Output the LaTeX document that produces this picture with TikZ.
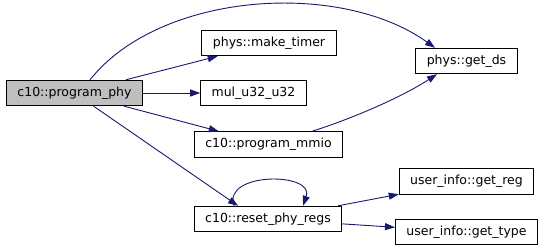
\documentclass[tikz,border=0pt]{standalone}
\usepackage{fontspec}
\setmainfont{DejaVu Sans}
\usepackage{xcolor}
\definecolor{edgeblue}{HTML}{191970}
\definecolor{curgray}{HTML}{BFBFBF}
\usepackage{tikz}
\usetikzlibrary{calc,positioning,arrows.meta,shapes}
\tikzset{
    func/.style={
    rectangle,draw=black,fill=white,line width=0.9pt,inner xsep=11pt,
    minimum height=25.5pt,font=\fontsize{12.5}{15}\selectfont
    },
    curfunc/.style={
    func,fill=curgray
    },
  line/.style={draw=edgeblue, line width=0.9pt, -{Triangle[length=10pt,width=7pt]}},
}

\begin{document}
\begin{tikzpicture}[x=1pt,y=-1pt]
\useasboundingbox (0,0) rectangle (545,251);

  \node[curfunc] (phy) at (74.5,93) {c10::program\_phy};
  \node[func] (mt) at (269,43) {phys::make\_timer};
  \node[func] (mul) at (253.5,93) {mul\_u32\_u32};
  \node[func] (mmio) at (268.5,144.5) {c10::program\_mmio};
  \node[func] (rst) at (268,219) {c10::reset\_phy\_regs};
  \node[func] (ds) at (466.5,61) {phys::get\_ds};
  \node[func] (greg) at (466.5,181.5) {user\_info::get\_reg};
  \node[func] (gtype) at (466.5,232) {user\_info::get\_type};

  % calls out of program_phy
  \path[line] ([xshift=15.5pt]phy.north) .. controls +(70,-88) and +(-95,-68) .. ([xshift=-31.5pt]ds.north);
  \path[line] (phy) -- (mt);
  \path[line] (phy) -- (mul);
  \path[line] (phy) -- (mmio);
  \path[line] (phy) -- ([xshift=-30pt]rst.north);
  \path[line] ([xshift=43.5pt]mmio.north) .. controls +(38,-12) and +(-37,24) .. ([xshift=-29.5pt]ds.south);
  % recursive call
  \path[line] ([xshift=-34pt]rst.north) .. controls +(-12,-34) and +(12,-34) .. ([xshift=35pt]rst.north);
  \path[line] (rst) -- (greg);
  \path[line] (rst) -- (gtype);
\end{tikzpicture}
\end{document}
